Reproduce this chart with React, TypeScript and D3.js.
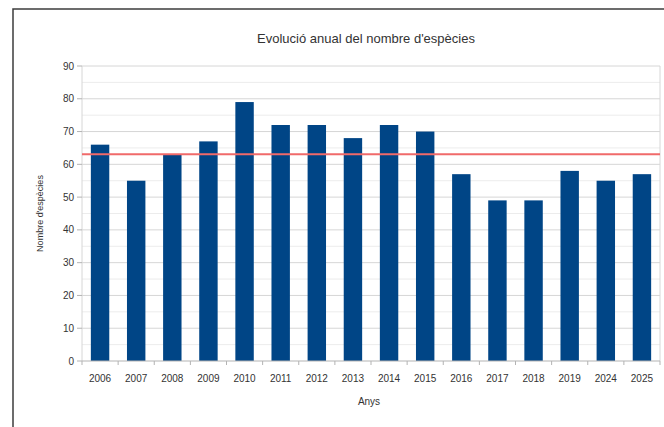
import React, { useEffect, useRef } from 'react';
import * as d3 from 'd3';

const years = ['2006', '2007', '2008', '2009', '2010', '2011', '2012', '2013', '2014', '2015', '2016', '2017', '2018', '2019', '2024', '2025'];
const species = [66, 55, 63, 67, 79, 72, 72, 68, 72, 70, 57, 49, 49, 58, 55, 57];
const yTicks = [0, 10, 20, 30, 40, 50, 60, 70, 80, 90];

const W = 664;
const H = 427;
const margin = { top: 66, right: 4, bottom: 66, left: 82 };

const App: React.FC = () => {
  const ref = useRef<SVGSVGElement>(null);

  useEffect(() => {
    if (!ref.current) return;
    const svg = d3.select(ref.current);
    svg.selectAll('*').remove();

    const x0 = margin.left;
    const x1 = W - margin.right;
    const y0 = H - margin.bottom;
    const y1 = margin.top;

    const x = d3.scaleBand<string>().domain(years).range([x0, x1]).paddingInner(0.49).paddingOuter(0.245);
    const xb = d3.scaleBand<string>().domain(years).range([x0, x1]);
    const y = d3.scaleLinear().domain([0, 90]).range([y0, y1]);

    svg.append('rect').attr('width', W).attr('height', H).attr('fill', '#fff');

    // frame
    svg.append('path')
      .attr('d', `M13,${H}V9H${W}`)
      .attr('fill', 'none')
      .attr('stroke', '#3c3c3c')
      .attr('stroke-width', 1.5);

    // minor gridlines
    svg.append('g')
      .selectAll('line')
      .data(d3.range(5, 90, 10))
      .join('line')
      .attr('x1', x0).attr('x2', x1)
      .attr('y1', d => y(d)).attr('y2', d => y(d))
      .attr('stroke', '#ececec');

    // major gridlines
    svg.append('g')
      .selectAll('line')
      .data(yTicks.slice(1))
      .join('line')
      .attr('x1', x0).attr('x2', x1)
      .attr('y1', d => y(d)).attr('y2', d => y(d))
      .attr('stroke', '#d6d6d6');

    // plot edges
    svg.append('line').attr('x1', x0).attr('x2', x0).attr('y1', y1).attr('y2', y0).attr('stroke', '#d6d6d6');
    svg.append('line').attr('x1', x1).attr('x2', x1).attr('y1', y1).attr('y2', y0).attr('stroke', '#d6d6d6');

    // bars
    svg.append('g')
      .selectAll('rect')
      .data(species)
      .join('rect')
      .attr('x', (_, i) => x(years[i])!)
      .attr('width', x.bandwidth())
      .attr('y', d => y(d))
      .attr('height', d => y0 - y(d))
      .attr('fill', '#004586');

    // mean line
    const mean = d3.mean(species)!;
    svg.append('line')
      .attr('x1', x0).attr('x2', x1)
      .attr('y1', y(mean)).attr('y2', y(mean))
      .attr('stroke', '#f06a6a')
      .attr('stroke-width', 2);

    // x axis
    svg.append('line').attr('x1', x0).attr('x2', x1).attr('y1', y0).attr('y2', y0).attr('stroke', '#b3b3b3');
    svg.append('g')
      .selectAll('line')
      .data([...years.map(d => xb(d)!), x1])
      .join('line')
      .attr('x1', d => d).attr('x2', d => d)
      .attr('y1', y0).attr('y2', y0 + 4)
      .attr('stroke', '#b3b3b3');

    svg.append('g')
      .attr('font-family', 'Liberation Sans, Arial, sans-serif')
      .attr('font-size', 10)
      .attr('fill', '#333')
      .attr('text-anchor', 'middle')
      .selectAll('text')
      .data(years)
      .join('text')
      .attr('x', d => xb(d)! + xb.bandwidth() / 2)
      .attr('y', y0 + 21)
      .text(d => d);

    // y axis
    svg.append('g')
      .selectAll('line')
      .data(yTicks)
      .join('line')
      .attr('x1', x0 - 5).attr('x2', x0)
      .attr('y1', d => y(d)).attr('y2', d => y(d))
      .attr('stroke', '#b3b3b3');

    svg.append('g')
      .attr('font-family', 'Liberation Sans, Arial, sans-serif')
      .attr('font-size', 10)
      .attr('fill', '#333')
      .attr('text-anchor', 'end')
      .selectAll('text')
      .data(yTicks)
      .join('text')
      .attr('x', x0 - 8)
      .attr('y', d => y(d) + 3.5)
      .text(d => d);

    // titles
    svg.append('text')
      .attr('x', 366).attr('y', 43)
      .attr('text-anchor', 'middle')
      .attr('font-family', 'Liberation Sans, Arial, sans-serif')
      .attr('font-size', 13)
      .attr('fill', '#333')
      .text("Evolució anual del nombre d'espècies");

    svg.append('text')
      .attr('x', 369).attr('y', 405)
      .attr('text-anchor', 'middle')
      .attr('font-family', 'Liberation Sans, Arial, sans-serif')
      .attr('font-size', 10)
      .attr('fill', '#333')
      .text('Anys');

    svg.append('text')
      .attr('transform', `translate(43,${(y0 + y1) / 2}) rotate(-90)`)
      .attr('text-anchor', 'middle')
      .attr('font-family', 'Liberation Sans, Arial, sans-serif')
      .attr('font-size', 9)
      .attr('fill', '#333')
      .text("Nombre d'espècies");
  }, []);

  return (
    <svg
      ref={ref}
      width={W}
      height={H}
      style={{ position: 'absolute', left: 0, top: 0, display: 'block' }}
    />
  );
};

export default App;
